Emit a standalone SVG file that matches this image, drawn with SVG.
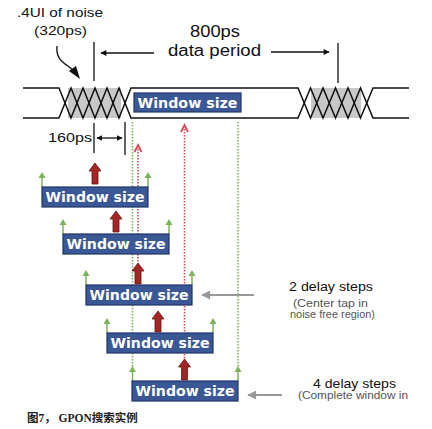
<svg xmlns="http://www.w3.org/2000/svg" width="432" height="429" viewBox="0 0 432 429">
<style>
.t{font-family:"Liberation Sans",Arial,sans-serif;fill:#111}
.s{font-family:"Liberation Sans",Arial,sans-serif;fill:#555;font-size:10px}
.box{fill:#3a5896;stroke:#1e3468;stroke-width:1.2}
.bt{font-family:"DejaVu Sans",Verdana,sans-serif;font-weight:bold;font-size:14.5px;fill:#fff;text-anchor:middle}
.wave{fill:none;stroke:#111;stroke-width:1.5}
.gd{stroke:#7cb35a;stroke-width:1.6;stroke-dasharray:1.5 1.5;fill:none}
.rd{stroke:#d9485a;stroke-width:1.6;stroke-dasharray:1.5 1.5;fill:none}
.ga{stroke:#7cb35a;stroke-width:1.5;fill:none}
.gh{fill:#7cb35a}
.ra{fill:#a32626;stroke:#6a1212;stroke-width:0.8}
.gray{stroke:#999;stroke-width:2;fill:none}
.k{stroke:#111;stroke-width:1.3;fill:none}
</style>
<defs>
<marker id="ah" viewBox="0 0 10 10" refX="9" refY="5" markerWidth="8" markerHeight="6" markerUnits="userSpaceOnUse" orient="auto"><path d="M0,0 L10,5 L0,10 z" fill="#111"/></marker>
<marker id="ah2" viewBox="0 0 10 10" refX="9" refY="5" markerWidth="6" markerHeight="6" markerUnits="userSpaceOnUse" orient="auto-start-reverse"><path d="M0,0 L10,5 L0,10 z" fill="#111"/></marker>
<marker id="gah" viewBox="0 0 10 10" refX="9" refY="5" markerWidth="10" markerHeight="9" markerUnits="userSpaceOnUse" orient="auto"><path d="M0,0 L10,5 L0,10 z" fill="#999"/></marker>
<g id="garrow"><path class="ga" d="M0,0 V-12"/><path class="gh" d="M-3.5,-9 L0,-15 L3.5,-9 z"/></g>
<path id="rarrow" class="ra" d="M-3,0 V-13 H-6 L0,-21 L6,-13 H3 V0 z"/>
</defs>

<g id="waveform">
<rect x="68" y="88" width="53" height="30" fill="#c8c8c8"/>
<rect x="311" y="88" width="50" height="30" fill="#c8c8c8"/>
<path class="wave" d="M23,88 H59 L71,118 L83,88 L95,118 L107,88 L119,118 L131,88 H298 L310.5,118 L323,88 L335.5,118 L348,88 L360.5,118 L373,88 H409"/>
<path class="wave" d="M23,118 H59 L71,88 L83,118 L95,88 L107,118 L119,88 L131,118 H298 L310.5,88 L323,118 L335.5,88 L348,118 L360.5,88 L373,118 H409"/>
</g>

<g id="labels-top">
<text class="t" x="17" y="17" font-size="13" textLength="86" lengthAdjust="spacingAndGlyphs">.4UI of noise</text>
<text class="t" x="34" y="35" font-size="13" textLength="53" lengthAdjust="spacingAndGlyphs">(320ps)</text>
<text class="t" x="190" y="37" font-size="16" textLength="50" lengthAdjust="spacingAndGlyphs">800ps</text>
<text class="t" x="168" y="56" font-size="16" textLength="93" lengthAdjust="spacingAndGlyphs">data period</text>
<text class="t" x="48" y="142" font-size="13" textLength="44" lengthAdjust="spacingAndGlyphs">160ps</text>
</g>

<g id="connectors">
<line class="k" x1="94" y1="42" x2="94" y2="81"/>
<line class="k" x1="338" y1="43" x2="338" y2="83"/>
<line class="k" x1="154" y1="53" x2="101" y2="53" marker-end="url(#ah)"/>
<line class="k" x1="271" y1="52" x2="329" y2="52" marker-end="url(#ah)"/>
<path class="k" d="M57,46 C56,56 60,61 68,66 L73,70" />
<path d="M69,71 L80,79 L76,66 z" fill="#111"/>
<line class="k" x1="94" y1="123" x2="94" y2="153"/>
<line class="k" x1="125" y1="122" x2="125" y2="155"/>
<line class="k" x1="97" y1="138" x2="122" y2="138" marker-start="url(#ah2)" marker-end="url(#ah2)"/>

<line class="gd" x1="132.5" y1="122" x2="132.5" y2="368"/>
<line class="gd" x1="238" y1="122" x2="238" y2="368"/>
<line class="rd" x1="138" y1="149" x2="138" y2="263"/>
<line class="rd" x1="184.5" y1="129" x2="184.5" y2="359"/>
<path d="M134.5,152 L138,145 L141.5,152" stroke="#d9485a" stroke-width="1.8" fill="none"/>
<path d="M181,132 L184.5,125 L188,132" stroke="#d9485a" stroke-width="1.8" fill="none"/>

<line class="gray" x1="254" y1="295" x2="202" y2="295" marker-end="url(#gah)"/>
<line class="gray" x1="282" y1="395" x2="248" y2="395" marker-end="url(#gah)"/>
</g>

<g id="window-main">
<rect class="box" x="134" y="93" width="107" height="19"/>
<text class="bt" x="187.5" y="108" textLength="100" lengthAdjust="spacingAndGlyphs">Window size</text>
</g>

<g id="window-1">
<use href="#garrow" x="42" y="187"/><use href="#garrow" x="148" y="187"/>
<use href="#rarrow" x="95" y="184"/>
<rect class="box" x="42" y="187" width="106" height="20"/>
<text class="bt" x="95" y="202" textLength="99" lengthAdjust="spacingAndGlyphs">Window size</text>
</g>
<g id="window-2">
<use href="#garrow" x="63" y="234"/><use href="#garrow" x="169" y="234"/>
<use href="#rarrow" x="116" y="232"/>
<rect class="box" x="63" y="234" width="106" height="20"/>
<text class="bt" x="116" y="249" textLength="99" lengthAdjust="spacingAndGlyphs">Window size</text>
</g>
<g id="window-3">
<use href="#garrow" x="86" y="285"/><use href="#garrow" x="192" y="285"/>
<use href="#rarrow" x="138" y="284"/>
<rect class="box" x="86" y="285" width="106" height="20"/>
<text class="bt" x="139" y="300" textLength="99" lengthAdjust="spacingAndGlyphs">Window size</text>
</g>
<g id="window-4">
<use href="#garrow" x="107" y="333"/><use href="#garrow" x="213" y="333"/>
<use href="#rarrow" x="158" y="332"/>
<rect class="box" x="107" y="333" width="106" height="20"/>
<text class="bt" x="160" y="348" textLength="99" lengthAdjust="spacingAndGlyphs">Window size</text>
</g>
<g id="window-5">
<use href="#garrow" x="132.5" y="381"/><use href="#garrow" x="238" y="381"/>
<use href="#rarrow" x="184.5" y="380"/>
<rect class="box" x="132" y="381" width="106" height="20"/>
<text class="bt" x="185" y="396" textLength="99" lengthAdjust="spacingAndGlyphs">Window size</text>
</g>

<g id="note-2">
<text class="t" x="289" y="291" font-size="13" textLength="84" lengthAdjust="spacingAndGlyphs">2 delay steps</text>
<text class="s" x="293" y="307" textLength="75" lengthAdjust="spacingAndGlyphs">(Center tap in</text>
<text class="s" x="290" y="318" textLength="85" lengthAdjust="spacingAndGlyphs">noise free region)</text>
</g>
<g id="note-4">
<text class="t" x="313" y="388" font-size="13" textLength="83" lengthAdjust="spacingAndGlyphs">4 delay steps</text>
<text class="s" x="298" y="399" textLength="110" lengthAdjust="spacingAndGlyphs">(Complete window in</text>
</g>

<g id="caption">
<text x="27" y="422" font-size="11.5" font-weight="bold" fill="#222" font-family="'Liberation Serif','Noto Sans CJK SC',serif">图7，  GPON搜索实例</text>
</g>
</svg>
